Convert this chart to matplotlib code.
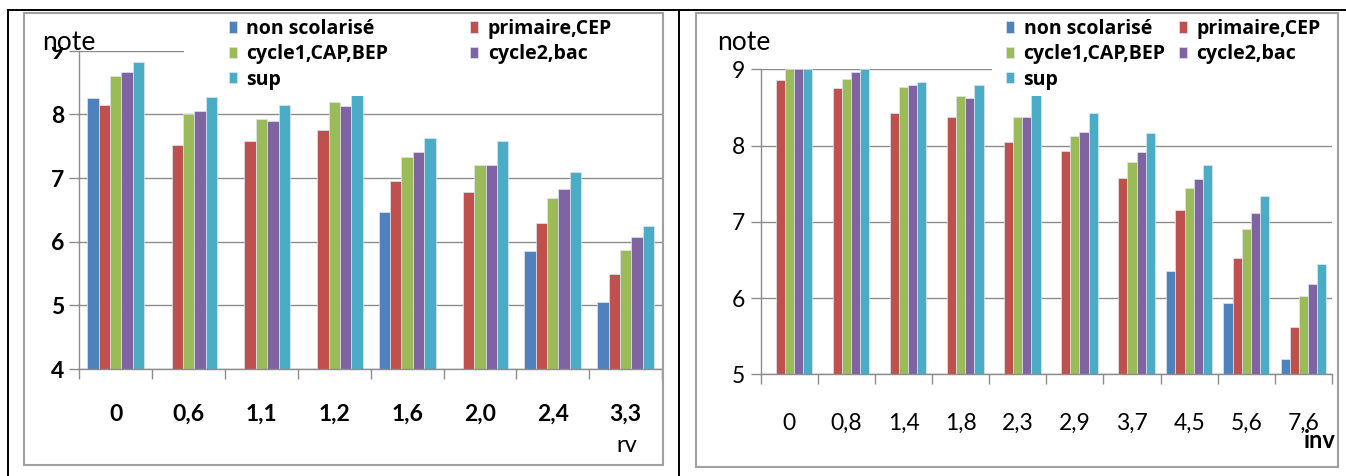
import numpy as np
import matplotlib.pyplot as plt
from matplotlib.patches import Rectangle
from matplotlib.lines import Line2D

plt.rcParams['font.family'] = ['Lato', 'DejaVu Sans']

series = ["non scolarisé", "primaire,CEP", "cycle1,CAP,BEP", "cycle2,bac", "sup"]
colors = ["#4F81BD", "#C0504D", "#9BBB59", "#8064A2", "#4BACC6"]

# left chart: note by rv
rv_labels = ["0", "0,6", "1,1", "1,2", "1,6", "2,0", "2,4", "3,3"]
rv_non = [8.26, np.nan, np.nan, np.nan, 6.46, np.nan, 5.85, 5.06]
rv_prim = [8.14, 7.52, 7.58, 7.75, 6.95, 6.78, 6.29, 5.49]
rv_cyc1 = [8.60, 8.00, 7.92, 8.20, 7.33, 7.21, 6.69, 5.87]
rv_cyc2 = [8.66, 8.05, 7.90, 8.13, 7.41, 7.20, 6.82, 6.08]
rv_sup = [8.83, 8.28, 8.15, 8.39, 7.63, 7.58, 7.10, 6.25]

# right chart: note by inv
inv_labels = ["0", "0,8", "1,4", "1,8", "2,3", "2,9", "3,7", "4,5", "5,6", "7,6"]
inv_non = [np.nan, np.nan, np.nan, np.nan, np.nan, np.nan, np.nan, 6.36, 5.93, 5.20]
inv_prim = [8.86, 8.76, 8.43, 8.38, 8.05, 7.93, 7.57, 7.16, 6.53, 5.62]
inv_cyc1 = [9.0, 8.87, 8.77, 8.65, 8.38, 8.13, 7.79, 7.44, 6.90, 6.03]
inv_cyc2 = [9.0, 8.97, 8.79, 8.63, 8.37, 8.18, 7.91, 7.56, 7.11, 6.19]
inv_sup = [9.0, 9.0, 8.84, 8.80, 8.67, 8.43, 8.17, 7.75, 7.34, 6.45]

W, H = 1346, 476
fig = plt.figure(figsize=(W / 100, H / 100), dpi=100)


def box(x0, y0, x1, y1):
    # pixel box (top-left origin) -> figure fraction rect
    return [x0 / W, 1 - y1 / H, (x1 - x0) / W, (y1 - y0) / H]


def fx(x):
    return x / W


def fy(y):
    return 1 - y / H


def draw_chart(ax, labels, data, ymin, ymax, group, bold, pad):
    n = len(labels)
    x = np.arange(n)
    w = group / len(data)
    weight = "bold" if bold else "normal"
    for i, vals in enumerate(data):
        ax.bar(x - group / 2 + w * (i + 0.5), vals, w, color=colors[i],
               edgecolor="#dde6f0", linewidth=0.5, label=series[i], zorder=2)
    ax.set_xlim(-0.5, n - 0.5)
    ax.set_ylim(ymin, ymax)
    ax.set_axisbelow(True)
    ax.yaxis.grid(True, color="#8c8c8c", linewidth=1.0)
    ax.set_yticks(range(ymin, ymax + 1))
    ax.set_yticklabels([str(v) for v in range(ymin, ymax + 1)],
                       fontsize=16.5, fontweight=weight)
    ax.set_xticks(np.arange(n + 1) - 0.5)
    ax.set_xticklabels([])
    ax.set_xticks(x, minor=True)
    ax.set_xticklabels(labels, minor=True, fontsize=16.5, fontweight=weight)
    ax.tick_params(axis="x", which="major", length=7, color="#8c8c8c", width=1)
    ax.tick_params(axis="x", which="minor", length=0, pad=pad)
    ax.tick_params(axis="y", length=7, color="#8c8c8c", width=1, pad=4)
    for s in ["top", "right"]:
        ax.spines[s].set_visible(False)
    for s in ["left", "bottom"]:
        ax.spines[s].set_color("#8c8c8c")
        ax.spines[s].set_linewidth(1.0)


ax1 = fig.add_axes(box(79.4, 50.7, 662, 369))
draw_chart(ax1, rv_labels, [rv_non, rv_prim, rv_cyc1, rv_cyc2, rv_sup], 4, 9, 0.78, True, 25)

ax2 = fig.add_axes(box(760.7, 69.3, 1332, 374.3))
draw_chart(ax2, inv_labels, [inv_non, inv_prim, inv_cyc1, inv_cyc2, inv_sup], 5, 9, 0.8, False, 28)

# white areas behind legends
for ax, (x0, x1) in [(ax1, (184, 662)), (ax2, (992, 1337))]:
    r = Rectangle((fx(x0), fy(96)), fx(x1) - fx(x0), fy(14) - fy(96),
                  transform=fig.transFigure, facecolor="white", edgecolor="none",
                  zorder=4, clip_on=False)
    ax.add_patch(r)

# white box behind "note" on the left chart (hides the top of the 9)
ax1.add_patch(Rectangle((fx(26), fy(47)), fx(180) - fx(26), fy(14) - fy(47),
                        transform=fig.transFigure, facecolor="white", edgecolor="none",
                        zorder=4, clip_on=False))

order = [0, 2, 4, 1, 3]
for ax, x0, colsp in [(ax1, 229, 4.2), (ax2, 1006, 0.7)]:
    h, l = ax.get_legend_handles_labels()
    leg = ax.legend([h[i] for i in order], [l[i] for i in order], ncol=2,
                    loc="upper left", bbox_to_anchor=(fx(x0), fy(19)),
                    bbox_transform=fig.transFigure, frameon=False,
                    prop={"family": "Open Sans", "size": 14, "weight": "bold"},
                    handlelength=0.4, handleheight=0.55, handletextpad=0.5,
                    labelspacing=0.27, columnspacing=colsp, borderaxespad=0,
                    borderpad=0)
    leg.set_zorder(6)

fig.text(fx(42), fy(42), "note", fontsize=19, ha="left", va="center", zorder=7)
fig.text(fx(717), fy(42), "note", fontsize=19, ha="left", va="center")
fig.text(fx(627), fy(445), "rv", fontsize=17, ha="center", va="center")
fig.text(fx(1320), fy(441), "inv", fontsize=17, ha="center", va="center",
         fontweight="bold")

# panel frames
gray = "#a0a0a0"
for x0, y0, x1, y1 in [(24, 13, 663, 465), (696, 13, 1338, 467)]:
    fig.add_artist(Rectangle((fx(x0), fy(y1)), fx(x1) - fx(x0), fy(y0) - fy(y1),
                             transform=fig.transFigure, fill=False,
                             edgecolor=gray, linewidth=1.5, zorder=8))
black_lines = [((8, 1346), (10, 10)), ((8, 8), (10, 476)), ((679, 679), (10, 476))]
for xs, ys in black_lines:
    fig.add_artist(Line2D([fx(v) for v in xs], [fy(v) for v in ys],
                          color="black", linewidth=1.4, zorder=8))

fig.savefig("out.png", dpi=100)
